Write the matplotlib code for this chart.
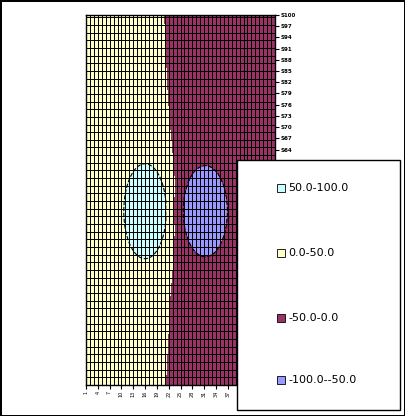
import numpy as np
import matplotlib.pyplot as plt
from matplotlib.patches import Rectangle

# series S1..S100 (rows), categories 1..49 (columns)
n_cols = 49
n_rows = 100
# boundary between 0..50 and -50..0 zones (series -> column)
bound_series = [1, 23, 34, 55, 77, 100]
bound_col = [21.2, 22.2, 23.0, 23.5, 21.7, 20.7]
# blobs: (col centre, series centre, col radius, series radius)
cyan_blob = (16.0, 47.5, 5.4, 12.7)
blue_blob = (31.3, 47.5, 5.6, 12.2)
levels = [-100, -50, 0, 50, 100]
colors = ['#9999FF', '#993366', '#FFFFCC', '#CCFFFF']
labels = ['50.0-100.0', '0.0-50.0', '-50.0-0.0', '-100.0--50.0']

xs = np.linspace(1, n_cols, 400)
ys = np.linspace(1, n_rows, 800)
X, Y = np.meshgrid(xs, ys)
b = np.interp(Y, bound_series, bound_col)
Z = 25 * np.tanh((b - X) * 3)
cx, cy, rx, ry = cyan_blob
r2 = ((X - cx) / rx) ** 2 + ((Y - cy) / ry) ** 2
Z = np.maximum(Z, 50 + 45 * (1 - r2))
cx, cy, rx, ry = blue_blob
r2 = ((X - cx) / rx) ** 2 + ((Y - cy) / ry) ** 2
Z = np.minimum(Z, -50 - 45 * (1 - r2))
Z = np.clip(Z, -99, 99)

fig = plt.figure(figsize=(4.05, 4.16), dpi=100)
fig.patch.set_edgecolor('black')
fig.patch.set_linewidth(2)
ax = fig.add_axes([86/405, 1 - 385/416, 189/405, 370/416])
ax.contourf(X, Y, Z, levels=levels, colors=colors)
ax.contour(X, Y, Z, levels=[-50, 50], colors='black', linewidths=0.8,
           linestyles='dashed')
for c in range(1, n_cols + 1):
    ax.axvline(c, color='black', lw=0.7)
for r in np.arange(1, n_rows + 1, 2.05):
    ax.axhline(r, color='black', lw=0.7)
ax.set_xlim(1, n_cols)
ax.set_ylim(1, n_rows)
xt = list(range(1, n_cols + 1, 3))
ax.set_xticks(xt)
# labels under the legend box are hidden, as in the reference
ax.set_xticklabels([str(i) if i < 40 else '' for i in xt], rotation=90, fontsize=3.5)
ax.yaxis.tick_right()
yt = list(range(100, 0, -3))
ax.set_yticks(yt)
ax.set_yticklabels(['S%d' % i if i >= 64 else '' for i in yt], fontsize=4, fontweight='bold')
ax.tick_params(length=3, width=0.8, pad=1)
for s in ax.spines.values():
    s.set_linewidth(1)

# legend box
fig.patches.append(Rectangle((237/405, 1 - 410/416), 163/405, 250/416,
                             transform=fig.transFigure, facecolor='white',
                             edgecolor='black', lw=1, zorder=5))
ys_leg = [188, 253, 318, 380]
for y, lab, col in zip(ys_leg, labels, colors[::-1]):
    fig.patches.append(Rectangle((277/405, 1 - (y + 4)/416), 8/405, 8/416,
                                 transform=fig.transFigure, facecolor=col,
                                 edgecolor='black', lw=0.6, zorder=6))
    fig.text(288/405, 1 - y/416, lab, fontsize=8, va='center', zorder=7)

fig.savefig('out.png', dpi=100)
